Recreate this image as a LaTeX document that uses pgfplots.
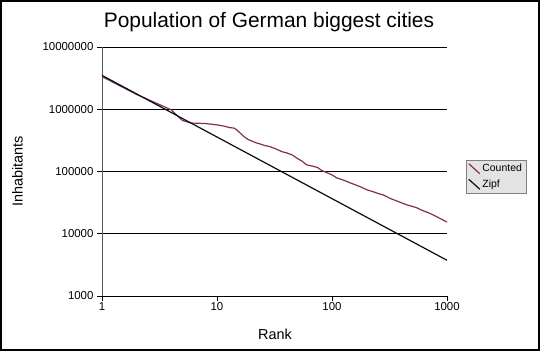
\documentclass[border=0pt]{standalone}
\usepackage{fontspec}
\setmainfont{Liberation Sans}
\usepackage{pgfplots}
\pgfplotsset{compat=1.18}
\definecolor{counted}{RGB}{128,48,80}
\definecolor{zipf}{RGB}{10,10,30}
\begin{document}
\begin{tikzpicture}
\useasboundingbox (0,0) rectangle (540bp,351bp);
\fill[white] (0,0) rectangle (540bp,351bp);
\begin{axis}[at={(102bp,55bp)}, anchor=south west, scale only axis,
  width=345bp, height=249bp,
  xmode=log, ymode=log, xmin=1, xmax=1000, ymin=1000, ymax=10000000,
  axis x line*=bottom, axis y line*=left,
  x axis line style={black, line width=0.9bp, -},
  y axis line style={gray!70!black, line width=0.9bp, -},
  xtick={1,10,100,1000}, xticklabels={1,10,100,1000},
  ytick={1000,10000,100000,1000000,10000000},
  yticklabels={1000,10000,100000,1000000,10000000},
  xminorticks=false, yminorticks=false,
  tick align=outside, major tick length=5bp,
  tick style={black, line width=0.8bp},
  ymajorgrids, major grid style={black, line width=0.8bp},
  /pgf/number format/assume math mode=true,
  ticklabel style={font=\fontsize{11.5}{12}\selectfont},
  xticklabel style={yshift=2bp},
  legend style={at={(1.055,0.4137)}, anchor=south west, fill=gray!22, draw=gray,
    font=\fontsize{10.5}{12}\selectfont, inner xsep=2bp, inner ysep=2bp, row sep=2.5bp,
    cells={anchor=west}},
  legend image code/.code={\draw[#1] (0bp,5bp) -- (11bp,-5bp);},
  clip=false,
]
\addplot[counted, line width=1.2bp, no marks] coordinates {
(1,3350000) (2,1730000) (3,1240000) (4,980000) (5,660000) (6,600000) (7,595000)
(8,588000) (9,575000) (10,560000) (11,545000) (12,525000) (13,505000) (14,500000)
(15,460000) (16,410000) (17,370000) (18,340000) (19,322000) (20,310000) (22,288000)
(24,275000) (26,262000) (29,250000) (33,228000) (37,207000) (40,200000) (45,185000)
(50,162000) (55,146000) (60,128000) (65,124000) (70,120000) (75,116000) (80,106000)
(85,100000) (90,96000) (100,88000) (110,79000) (120,75000) (130,71000) (143,66000)
(160,61000) (180,56000) (200,51000) (230,47000) (260,43500) (280,42000) (320,37000)
(360,34000) (400,31500) (450,29000) (500,27500) (550,26000) (600,24000) (700,21500)
(760,20000) (850,18000) (1000,15400)
};
\addlegendentry{Counted}
\addplot[zipf, line width=1.2bp, no marks] coordinates {(1,3500000) (1000,3750)};
\addlegendentry{Zipf}
\end{axis}
\node[anchor=base, font=\fontsize{21}{24}\selectfont] at (269bp,323bp) {Population of German biggest cities};
\node[rotate=90, font=\fontsize{14.5}{16}\selectfont] at (17.5bp,179.5bp) {Inhabitants};
\node[anchor=base, font=\fontsize{14.5}{16}\selectfont] at (275bp,12bp) {Rank};
\draw[black, line width=2.2bp] (1.1bp,1.1bp) rectangle (538.9bp,349.9bp);
\end{tikzpicture}
\end{document}
